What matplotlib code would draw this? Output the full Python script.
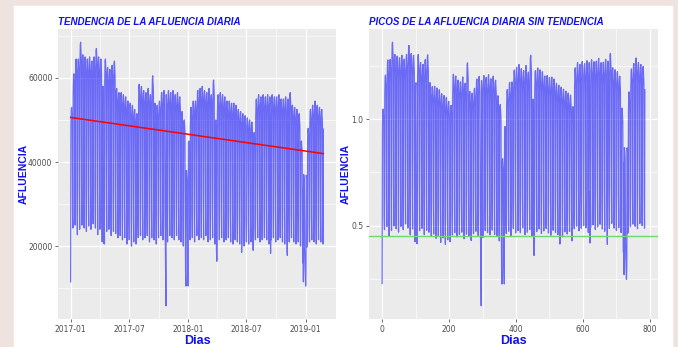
import numpy as np
import pandas as pd
import matplotlib
matplotlib.use('Agg')
import matplotlib.pyplot as plt
import matplotlib.dates as mdates
from matplotlib.patches import Rectangle

# datos
fecha_inicio = '2017-01-01'
n_dias = 786

# afluencia de los dias habiles, una cifra por semana (domingo a sabado)
pico_semanal = [
    53000, 61000, 64500, 64500, 68500, 65500, 65000, 64500, 65000, 64000,
    65000, 67000, 65000, 64500, 58000, 64500, 62500, 62000, 63000, 64000,
    57500, 56500, 56500, 56000, 55500, 54500, 54000, 53500, 52500, 51500,
    58500, 58000, 57000, 56500, 57500, 56000, 60500, 54000, 53500, 54500,
    56500, 57000, 56000, 57000, 56500, 57000, 56000, 56500, 55500, 52000,
    50000, 38000, 45000, 53000, 54500, 54500, 57000, 57500, 58000, 57000,
    56500, 57500, 56000, 59500, 50000, 56000, 56500, 56000, 55500, 54500,
    54500, 54000, 54000, 53500, 52500, 52000, 51500, 51000, 50500, 50000,
    49500, 47000, 55000, 56000, 55500, 56000, 55500, 56000, 55500, 56000,
    55500, 55500, 56000, 55000, 55000, 55500, 55000, 56500, 53500, 53000,
    52500, 51500, 45000, 37000, 38000, 48000, 52500, 53500, 54500, 53500,
    53000, 52500, 52000,
]
# afluencia del domingo de cada semana
domingo_semanal = [
    23500, 24300, 25000, 22700, 24000, 25000, 24300, 23500, 24800, 24000,
    25300, 24300, 22700, 24000, 21000, 20500, 23500, 24000, 22500, 23500,
    23000, 22000, 22500, 21500, 22000, 20500, 21500, 20000, 21000, 20500,
    22000, 22500, 21500, 22000, 22500, 21000, 22000, 21500, 20500, 22000,
    22500, 21500, 22000, 21000, 22500, 22000, 21500, 22500, 21500, 21000,
    20000, 14000, 15000, 21500, 22000, 21000, 22500, 21500, 22000, 21500,
    22500, 21000, 21500, 22000, 20500, 19500, 21500, 22000, 21000, 21500,
    22000, 21000, 20500, 21500, 21000, 20500, 21500, 20000, 21000, 20500,
    21000, 19000, 21500, 22000, 21000, 21500, 22000, 21500, 20500, 21500,
    22000, 21000, 21500, 22000, 21000, 20500, 21500, 21000, 22000, 21000,
    20500, 21000, 20000, 16000, 15000, 20500, 21000, 21500, 21000, 20500,
    21500, 21000, 20500,
]
# proporcion de cada dia frente al pico de la semana: lun, mar, mie, jue, vie, sab
perfil_dia = [0.92, 0.99, 1.0, 0.97, 0.94, 0.52]

# dias festivos: indice del dia y afluencia
festivos_dia = [0, 102, 103, 295, 296, 358, 364, 365, 453, 454,
                531, 621, 673, 723, 729, 730, 731]
festivos_valor = [11500, 21500, 20700, 15500, 5800, 10500, 14000, 10500, 19000, 16400,
                  18500, 18300, 17800, 11500, 12500, 10500, 13000]

# recta de tendencia (valor al primer y al ultimo dia)
tendencia_extremos = [50600, 42000]
umbral = 0.45

dias = np.arange(n_dias)
fechas = pd.date_range(fecha_inicio, periods=n_dias, freq='D')

afluencia = np.zeros(n_dias)
for d in dias:
    sem, dia_sem = d // 7, d % 7  # dia_sem 0 = domingo
    if dia_sem == 0:
        afluencia[d] = domingo_semanal[sem]
    else:
        afluencia[d] = pico_semanal[sem] * perfil_dia[dia_sem - 1]
afluencia[festivos_dia] = festivos_valor

pendiente = (tendencia_extremos[1] - tendencia_extremos[0]) / (n_dias - 1)
tendencia = tendencia_extremos[0] + pendiente * dias
sin_tendencia = afluencia / tendencia

azul = '#1010F0'
gris_txt = '#4D4D4D'


def estilo_gg(ax):
    ax.set_facecolor('#EBEBEB')
    for s in ax.spines.values():
        s.set_visible(False)
    ax.grid(which='major', color='white', lw=0.9)
    ax.grid(which='minor', color='white', lw=0.45)
    ax.set_axisbelow(True)
    ax.tick_params(which='major', length=2.5, width=0.5, color='#333333',
                   labelsize=5.5, labelcolor=gris_txt, pad=1.5)
    ax.tick_params(which='minor', length=0)


def expandir(v):
    r = v.max() - v.min()
    return v.min() - 0.05 * r, v.max() + 0.05 * r


fig = plt.figure(figsize=(6.78, 3.47), dpi=100)
fig.patch.set_facecolor('#EFE3DF')
fondo = Rectangle((14 / 678, 0), 658 / 678, 341 / 347,
                  transform=fig.transFigure, color='white', zorder=-10)
fig.add_artist(fondo)

txt_titulo = dict(color=azul, fontsize=7, fontweight='bold', style='italic',
                  family='Liberation Sans')
txt_eje = dict(color=azul, fontweight='bold', family='Liberation Sans')

# panel izquierdo
ax1 = fig.add_axes([58 / 678, 1 - 319 / 347, 278 / 678, 290 / 347])
estilo_gg(ax1)
ax1.plot(fechas, afluencia, color='blue', lw=0.9, alpha=0.55)
ax1.plot(fechas[[0, -1]], tendencia_extremos, color='red', lw=1.1)
x0, x1 = expandir(dias)
ax1.set_xlim(fechas[0] + pd.Timedelta(days=x0), fechas[0] + pd.Timedelta(days=x1))
ax1.set_ylim(*expandir(afluencia))
ax1.set_xticks(pd.to_datetime(['2017-01-01', '2017-07-01', '2018-01-01', '2018-07-01', '2019-01-01']))
ax1.set_xticks(pd.to_datetime(['2017-04-01', '2017-10-01', '2018-04-01', '2018-10-01']), minor=True)
ax1.xaxis.set_major_formatter(mdates.DateFormatter('%Y-%m'))
ax1.set_yticks([20000, 40000, 60000])
ax1.set_yticks([10000, 30000, 50000, 70000], minor=True)
ax1.set_title('TENDENCIA DE LA AFLUENCIA DIARIA', loc='left', pad=3, **txt_titulo)
ax1.set_xlabel('Dias', fontsize=9, labelpad=1, **txt_eje)
ax1.set_ylabel('AFLUENCIA', fontsize=7.5, **txt_eje)
ax1.yaxis.set_label_coords(-0.104, 0.5)

# panel derecho
ax2 = fig.add_axes([369 / 678, 1 - 319 / 347, 289 / 678, 290 / 347])
estilo_gg(ax2)
ax2.plot(dias, sin_tendencia, color='blue', lw=0.9, alpha=0.55)
ax2.axhline(umbral, color='#6FD86F', lw=1.0)
ax2.set_xlim(x0, x1)
ax2.set_ylim(*expandir(sin_tendencia))
ax2.set_xticks([0, 200, 400, 600, 800])
ax2.set_xticks([100, 300, 500, 700], minor=True)
ax2.set_yticks([0.5, 1.0])
ax2.set_yticks([0.25, 0.75, 1.25], minor=True)
ax2.set_title('PICOS DE LA AFLUENCIA DIARIA SIN TENDENCIA', loc='left', pad=3, **txt_titulo)
ax2.set_xlabel('Dias', fontsize=9, labelpad=1, **txt_eje)
ax2.set_ylabel('AFLUENCIA', fontsize=7.5, **txt_eje)
ax2.yaxis.set_label_coords(-0.062, 0.5)

fig.savefig('out.png', dpi=100, facecolor=fig.get_facecolor())
